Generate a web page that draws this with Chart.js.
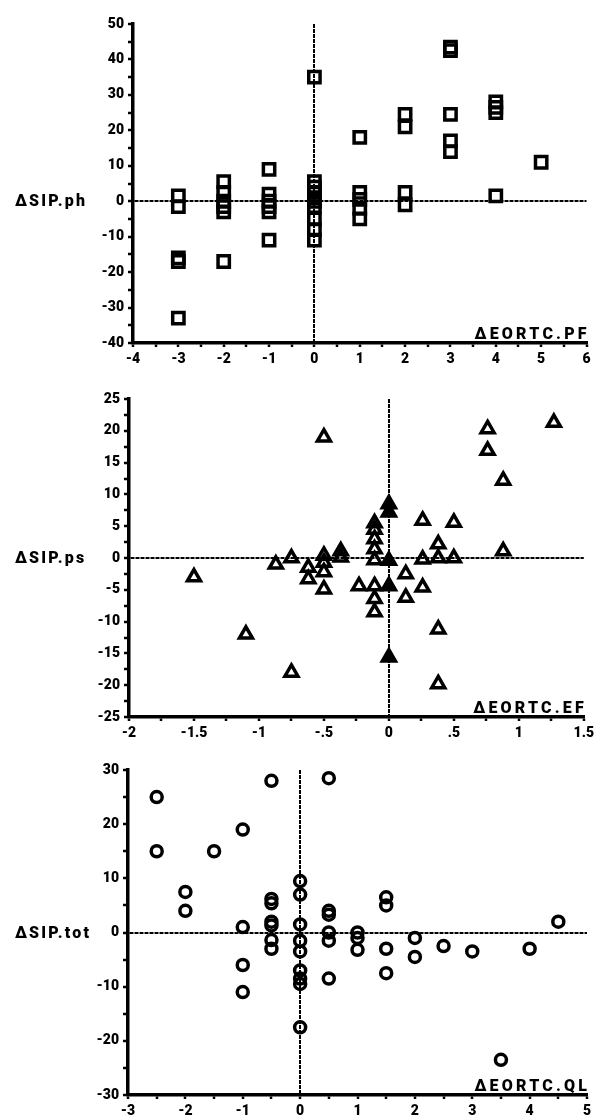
<!DOCTYPE html>
<html>
<head>
<meta charset="utf-8">
<script src="https://cdn.jsdelivr.net/npm/chart.js@4.4.1/dist/chart.umd.min.js"></script>
<style>
  html, body { margin: 0; padding: 0; background: #fff; }
  body { width: 598px; height: 1118px; position: relative; overflow: hidden; }
  .panel { position: absolute; left: 0; width: 598px; }
  .panel canvas { display: block; }
</style>
</head>
<body>
<div class="panel" id="p1" style="top:0px;height:375px;"><canvas id="c1" width="598" height="375"></canvas></div>
<div class="panel" id="p2" style="top:375px;height:370px;"><canvas id="c2" width="598" height="370"></canvas></div>
<div class="panel" id="p3" style="top:745px;height:373px;"><canvas id="c3" width="598" height="373"></canvas></div>
<script>
// ---------- DATA ----------
// Panel 1: ΔEORTC.PF vs ΔSIP.ph (squares)
const pfX  = [-3, -3, -3, -3, -3,
              -2, -2, -2, -2, -2, -2,
              -1, -1, -1, -1, -1, -1,
               0, 0, 0, 0, 0, 0, 0, 0, 0, 0,
               1, 1, 1, 1, 1,
               2, 2, 2, 2,
               3, 3, 3, 3, 3,
               4, 4, 4, 4,
               5];
const phY  = [1.5, -1.5, -16, -17, -33,
              5.5, 2.5, 0, -1.5, -3, -17,
              9, 2, 0, -1.5, -3, -11,
              35, 5.5, 4, 2.5, 1, 0, -1.5, -5, -8, -11,
              18, 2.5, 0.5, -2, -5,
              24.5, 21, 2.5, -1,
              43.5, 42.5, 24.5, 17, 14,
              28, 26.5, 25, 1.5,
              11];

// Panel 2: ΔEORTC.EF vs ΔSIP.ps (triangles)
const efX  = [-1.5, -1.1, -0.87, -0.75, -0.75,
              -0.5, -0.62, -0.62, -0.5, -0.5, -0.5, -0.5,
              -0.37, -0.37, -0.23,
              -0.11, -0.11, -0.11, -0.11, -0.11, -0.11, -0.11, -0.11,
               0, 0, 0, 0, 0,
               0.13, 0.13, 0.26, 0.26, 0.26, 0.38, 0.38, 0.38, 0.38,
               0.5, 0.5, 0.76, 0.76, 0.88, 0.88, 1.27];
const psY  = [-3, -12, -1, 0, -18,
              19, -1.5, -3.3, 0.4, -0.7, -2.2, -4.9,
              1.1, 0.1, -4.4,
              5.5, 4.5, 3, 1.4, -0.3, -4.4, -6.4, -8.5,
              8.5, 7.2, -0.4, -4.4, -15.6,
              -2.5, -6.2, 5.9, -0.2, -4.6, 2.2, 0, -11.2, -19.8,
              5.6, 0, 20.3, 16.9, 12.2, 1.1, 21.3];

// Panel 3: ΔEORTC.QL vs ΔSIP.tot (circles)
const qlX  = [-2.5, -2.5, -2, -2, -1.5, -1, -1, -1, -1,
              -0.5, -0.5, -0.5, -0.5, -0.5, -0.5, -0.5,
               0, 0, 0, 0, 0, 0, 0, 0, 0,
               0.5, 0.5, 0.5, 0.5, 0.5, 0.5,
               1, 1, 1, 1.5, 1.5, 1.5, 1.5, 2, 2, 2.5, 3, 3.5, 4, 4.5];
const totY = [25, 15, 7.5, 4, 15, 19, 1, -6, -11,
              28, 6.2, 5.4, 2, 1.3, -1.4, -3,
               9.5, 7, 1.5, -1.5, -3.5, -7, -8.5, -9.5, -17.5,
              28.5, 4, 3.3, 0, -1.5, -8.5,
               0, -1, -3.2, 6.5, 5, -3, -7.5, -1, -4.5, -2.5, -3.5, -23.5, -3, 2];

// Axis ranges and labelled tick steps
const pfRange  = [-4, 6];   const pfStep  = 1;   const phRange  = [-40, 50]; const phStep  = 10;
const efRange  = [-2, 1.5]; const efStep  = 0.5; const psRange  = [-25, 25]; const psStep  = 5;
const qlRange  = [-3, 5];   const qlStep  = 1;   const totRange = [-30, 30]; const totStep = 10;

const titles = [
  {x: 'ΔEORTC.PF', y: 'ΔSIP.ph'},
  {x: 'ΔEORTC.EF', y: 'ΔSIP.ps'},
  {x: 'ΔEORTC.QL', y: 'ΔSIP.tot'}
];

// ---------- HELPERS ----------
const FONT = 'Roboto, "Liberation Sans", Arial, sans-serif';
function pts(xs, ys) { return xs.map((x, i) => ({x: x, y: ys[i]})); }
function isMult(v, s) { const r = v / s; return Math.abs(r - Math.round(r)) < 1e-6; }
function fmt(v) {
  let s = String(Math.round(v * 1000) / 1000);
  s = s.replace(/^0\./, '.').replace(/^-0\./, '-.');
  return s;
}

const axisTitles = {
  id: 'axisTitles',
  afterDraw(chart, args, opts) {
    const {ctx, chartArea, scales} = chart;
    ctx.save();
    ctx.fillStyle = '#000';
    ctx.font = '900 16px ' + FONT;
    ctx.letterSpacing = opts.ySpacing + 'px';
    ctx.textAlign = 'left';
    ctx.textBaseline = 'middle';
    ctx.fillText(opts.yTitle, 15, scales.y.getPixelForValue(0) + 1);
    ctx.letterSpacing = opts.xSpacing + 'px';
    ctx.textAlign = 'right';
    ctx.textBaseline = 'alphabetic';
    ctx.fillText(opts.xTitle, chartArea.right + opts.xSpacing, chartArea.bottom - 4);
    ctx.restore();
  }
};

function zeroColor(c) {
  return (c.tick && Math.abs(c.tick.value) < 1e-9) ? '#000' : 'rgba(0,0,0,0)';
}

function makeChart(id, data, xr, xs, yr, ys, style, radius, bw, title, padTop, xHeight, yWidth, fillFn) {
  return new Chart(document.getElementById(id), {
    type: 'scatter',
    data: {
      datasets: [{
        data: data,
        pointStyle: style,
        pointRadius: radius,
        pointHoverRadius: radius,
        borderColor: '#000',
        backgroundColor: fillFn,
        pointBorderWidth: bw,
        borderWidth: bw
      }]
    },
    options: {
      responsive: false,
      animation: false,
      events: [],
      layout: { padding: { top: padTop, right: 11, left: 0, bottom: 0 } },
      plugins: {
        legend: { display: false },
        tooltip: { enabled: false },
        axisTitles: { xTitle: title.x, yTitle: title.y, xSpacing: 3.2, ySpacing: 2.2 }
      },
      scales: {
        x: {
          type: 'linear',
          min: xr[0], max: xr[1],
          afterBuildTicks(scale) {
            const t = [];
            const n = Math.round((xr[1] - xr[0]) / (xs / 2));
            for (let i = 0; i <= n; i++) t.push({value: xr[0] + i * xs / 2});
            scale.ticks = t;
          },
          afterFit(scale) { scale.height = xHeight; },
          grid: { color: zeroColor, lineWidth: 2, tickColor: '#000', tickLength: 4, tickWidth: 2.5, drawOnChartArea: true },
          border: { display: true, color: '#000', width: 3.5, dash: [4, 1] },
          ticks: {
            autoSkip: false, maxRotation: 0, padding: 4, color: '#000',
            font: { family: FONT, size: 14, weight: '900' },
            callback: (v) => isMult(v, xs) ? fmt(v) : ''
          }
        },
        y: {
          type: 'linear',
          min: yr[0], max: yr[1],
          afterBuildTicks(scale) {
            const t = [];
            const n = Math.round((yr[1] - yr[0]) / (ys / 2));
            for (let i = 0; i <= n; i++) t.push({value: yr[0] + i * ys / 2});
            scale.ticks = t;
          },
          afterFit(scale) { scale.width = yWidth; },
          grid: { color: zeroColor, lineWidth: 2, tickColor: '#000', tickLength: 5, tickWidth: 2.5, drawOnChartArea: true },
          border: { display: true, color: '#000', width: 3.5, dash: [4, 1] },
          ticks: {
            autoSkip: false, padding: 4, color: '#000',
            font: { family: FONT, size: 14, weight: '900' },
            callback: (v) => isMult(v, ys) ? fmt(v) : ''
          }
        }
      }
    },
    plugins: [axisTitles]
  });
}

const clear = 'rgba(0,0,0,0)';
makeChart('c1', pts(pfX, phY), pfRange, pfStep, phRange, phStep, 'rect', 8, 3.5, titles[0], 24, 32, 133, clear);
makeChart('c2', pts(efX, psY), efRange, efStep, psRange, psStep, 'triangle', 7.5, 3.5, titles[1], 24, 28, 129,
  (c) => (c.raw && c.raw.x === 0) ? '#000' : clear);
makeChart('c3', pts(qlX, totY), qlRange, qlStep, totRange, totStep, 'circle', 5.5, 3.5, titles[2], 25, 23, 128, clear);
</script>
</body>
</html>
